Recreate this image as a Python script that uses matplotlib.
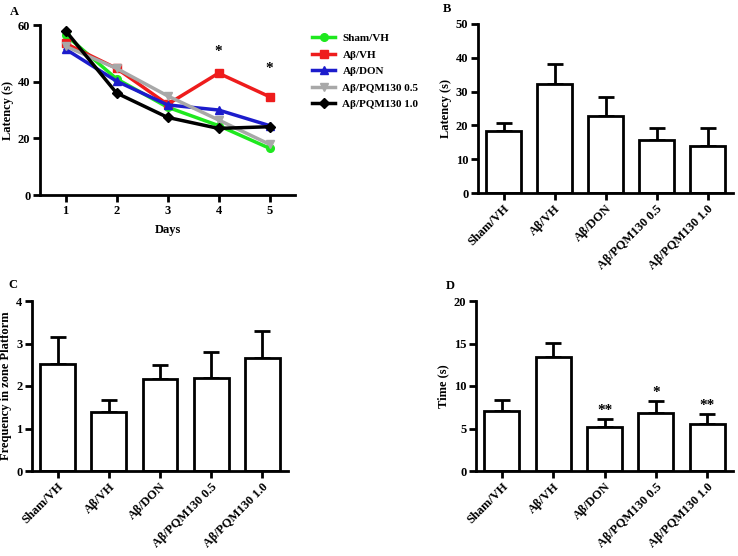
import matplotlib
matplotlib.use("Agg")
import matplotlib.pyplot as plt

plt.rcParams['font.family'] = ['Liberation Serif', 'DejaVu Serif']
plt.rcParams['font.weight'] = 'bold'
plt.rcParams['axes.labelweight'] = 'bold'

days = [1, 2, 3, 4, 5]
sham_vh = [56.5, 41, 31, 24.5, 16.5]
ab_vh = [53.5, 44.7, 32, 43, 34.7]
ab_don = [51.5, 40.2, 31.8, 30, 24.5]
ab_pqm05 = [52.5, 44.7, 35, 26.5, 17.9]
ab_pqm10 = [58, 36, 27.4, 23.5, 24.1]
series_names = ["Sham/VH", "Aβ/VH", "Aβ/DON", "Aβ/PQM130 0.5", "Aβ/PQM130 1.0"]
series_colors = ["#1ee81e", "#ee1c1c", "#1c1ccc", "#a8a8a8", "#000000"]
series_markers = ["o", "s", "^", "v", "D"]
a_star_days = [4, 5]
a_star_y = [50.5, 44.5]

groups = ["Sham/VH", "Aβ/VH", "Aβ/DON", "Aβ/PQM130 0.5", "Aβ/PQM130 1.0"]
b_mean = [18.4, 32.3, 22.7, 15.6, 14.0]
b_err = [2.3, 6.0, 5.7, 3.7, 5.2]
c_mean = [2.51, 1.40, 2.17, 2.20, 2.67]
c_err = [0.64, 0.26, 0.32, 0.59, 0.62]
d_mean = [7.06, 13.45, 5.2, 6.8, 5.5]
d_err = [1.24, 1.65, 0.9, 1.4, 1.17]
d_stars = ["", "", "**", "*", "**"]

fig = plt.figure(figsize=(7.38, 5.56), dpi=100)
W, H = 738.0, 556.0

def make_ax(left, right, top, bottom):
    return fig.add_axes([left / W, 1 - bottom / H, (right - left) / W, (bottom - top) / H])

LW = 2.0
FS = 9

def style(ax):
    for s in ['top', 'right']:
        ax.spines[s].set_visible(False)
    for s in ['left', 'bottom']:
        ax.spines[s].set_linewidth(LW)
    ax.tick_params(direction='out', length=5, width=LW, labelsize=FS, pad=2)
    for lab in ax.get_xticklabels() + ax.get_yticklabels():
        lab.set_fontweight('bold')

# Panel A
axA = make_ax(40, 295, 25, 195)
data = [sham_vh, ab_vh, ab_don, ab_pqm05, ab_pqm10]
handles = []
for vals, name, col, mk in zip(data, series_names, series_colors, series_markers):
    h, = axA.plot(days, vals, color=col, marker=mk, lw=2.5, ms=5.5, label=name)
    handles.append(h)
axA.set_xlim(0.5, 5.5)
axA.set_ylim(0, 60)
axA.set_yticks([0, 20, 40, 60])
axA.set_xticks(days)
axA.set_xlabel("Days", fontsize=FS, labelpad=5)
axA.set_ylabel("Latency (s)", fontsize=FS, labelpad=3)
for d, y in zip(a_star_days, a_star_y):
    axA.text(d, y, "*", ha='center', va='center', fontsize=11, fontweight='bold')
style(axA)
axA.legend(handles=handles, loc='upper left', bbox_to_anchor=(308 / W, 1 - 29 / H),
           bbox_transform=fig.transFigure, frameon=False,
           handlelength=2.0, handletextpad=0.7, labelspacing=0.6, borderaxespad=0,
           prop={'weight': 'bold', 'size': 8})
fig.text(10 / W, 1 - 12 / H, "A", fontsize=9, fontweight='bold', ha='left', va='center')

def bar_panel(ax, means, errs, ylim, yticks, ylabel):
    x = list(range(len(means)))
    ax.bar(x, means, width=0.68, color='white', edgecolor='black', linewidth=LW, zorder=2)
    ax.errorbar(x, means, yerr=[[0] * len(errs), errs], fmt='none', ecolor='black',
                elinewidth=LW, capsize=6, capthick=LW, zorder=1)
    ax.set_xlim(-0.5, 4.5)
    ax.set_ylim(*ylim)
    ax.set_yticks(yticks)
    ax.set_xticks(x)
    ax.set_xticklabels(groups, rotation=45, ha='right', rotation_mode='anchor')
    ax.set_ylabel(ylabel, fontsize=FS, labelpad=3)
    style(ax)

axB = make_ax(478, 733, 24, 193)
bar_panel(axB, b_mean, b_err, (0, 50), [0, 10, 20, 30, 40, 50], "Latency (s)")
fig.text(443 / W, 1 - 9 / H, "B", fontsize=9, fontweight='bold', ha='left', va='center')

axC = make_ax(32, 288, 301, 471)
bar_panel(axC, c_mean, c_err, (0, 4), [0, 1, 2, 3, 4], "Frequency in zone Platform")
fig.text(8 / W, 1 - 285 / H, "C", fontsize=9, fontweight='bold', ha='left', va='center')

axD = make_ax(476, 733, 301, 471)
bar_panel(axD, d_mean, d_err, (0, 20), [0, 5, 10, 15, 20], "Time (s)")
for i, (m, e, s) in enumerate(zip(d_mean, d_err, d_stars)):
    if s:
        axD.text(i, m + e + 0.3, s, ha='center', va='bottom', fontsize=11, fontweight='bold')
fig.text(446 / W, 1 - 286 / H, "D", fontsize=9, fontweight='bold', ha='left', va='center')

fig.savefig("out.png", dpi=100, facecolor='white')
